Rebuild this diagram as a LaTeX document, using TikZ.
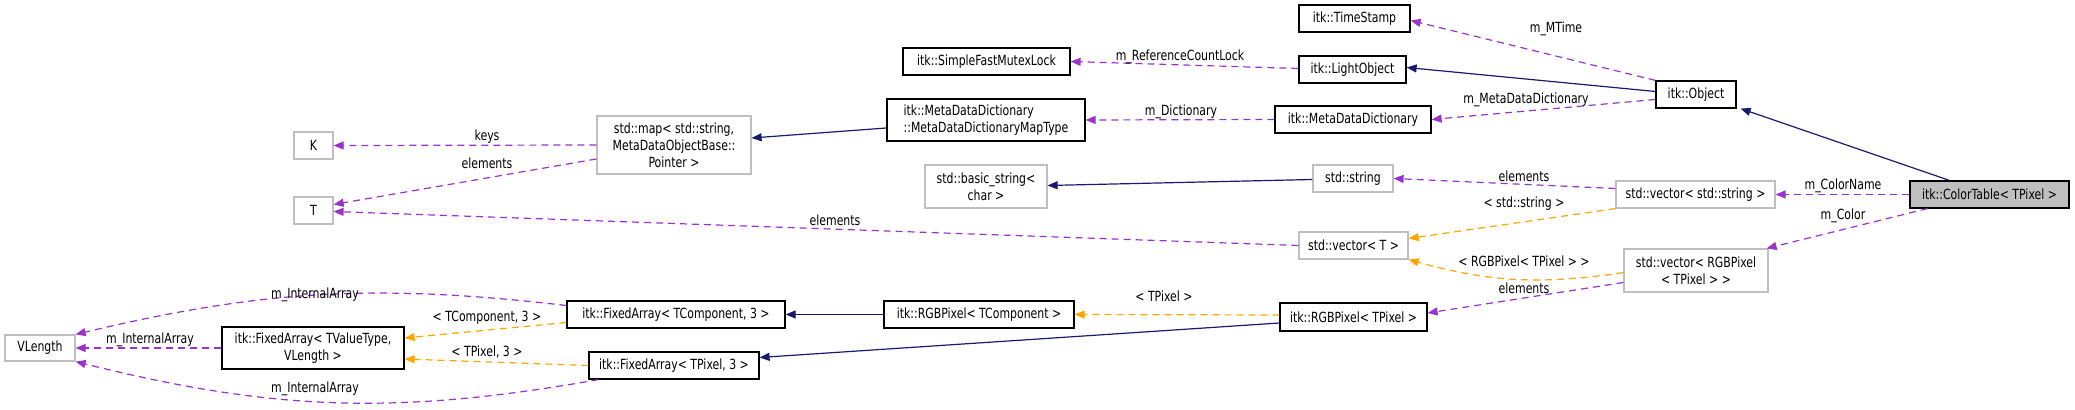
\documentclass[tikz,border=0pt]{standalone}
\usepackage{fontspec}
\setmainfont[FakeStretch=0.78]{DejaVu Sans}
\usetikzlibrary{arrows.meta,calc}
\definecolor{navy}{HTML}{191970}
\definecolor{purp}{HTML}{9A32CD}
\definecolor{orng}{HTML}{FFA500}
\definecolor{gbord}{HTML}{BFBFBF}
\begin{document}
\begin{tikzpicture}[x=0.5pt,y=-0.5pt,
  bx/.style={draw=black,line width=0.6pt,fill=white,inner sep=1pt,align=center,font=\fontsize{7}{8.6}\selectfont},
  gx/.style={bx,draw=gbord},
  sol/.style={draw=navy,line width=0.6pt,-{Triangle[length=5pt,width=4pt]}},
  pe/.style={draw=purp,line width=0.6pt,dash pattern=on 3.5pt off 2.5pt,-{Triangle[length=5pt,width=4pt,fill=purp]}},
  oe/.style={draw=orng,line width=0.6pt,dash pattern=on 3.5pt off 2.5pt,-{Triangle[length=5pt,width=4pt,fill=orng]}},
  lbl/.style={font=\fontsize{7}{8.6}\selectfont,inner sep=0pt}]
\useasboundingbox (0,0) rectangle (2075,410);
\node[bx,minimum width=55.5pt,minimum height=13.5pt] (TS) at (1354.5,18.5) {itk::TimeStamp};
\node[bx,minimum width=53.5pt,minimum height=13.5pt] (LO) at (1352.5,69.5) {itk::LightObject};
\node[bx,minimum width=40pt,minimum height=13.5pt] (OBJ) at (1696,94.5) {itk::Object};
\node[bx,minimum width=78pt,minimum height=13.5pt] (MDD) at (1353,119.5) {itk::MetaDataDictionary};
\node[bx,minimum width=83.5pt,minimum height=13.5pt] (SFML) at (986.5,61.5) {itk::SimpleFastMutexLock};
\node[bx,minimum width=99pt,minimum height=21pt,align=left] (MAPT) at (986,120) {itk::MetaDataDictionary\\::MetaDataDictionaryMapType};
\node[gx,minimum width=77pt,minimum height=29pt] (MAP) at (674,145) {std::map\textless{} std::string,\\MetaDataObjectBase::\\Pointer \textgreater{}};
\node[gx,minimum width=19.5pt,minimum height=13.5pt] (K) at (313.5,145.5) {K};
\node[gx,minimum width=19.5pt,minimum height=13.5pt] (T) at (313.5,210.5) {T};
\node[gx,minimum width=61pt,minimum height=21.5pt] (BS) at (986,186.5) {std::basic\_string\textless\\char \textgreater};
\node[gx,minimum width=40pt,minimum height=13.5pt] (STR) at (1353,178.5) {std::string};
\node[gx,minimum width=79.5pt,minimum height=13.5pt] (VS) at (1695.5,194.5) {std::vector\textless{} std::string \textgreater};
\node[bx,fill=gbord,minimum width=79.5pt,minimum height=13.5pt] (CT) at (1989.5,194.5) {itk::ColorTable\textless{} TPixel \textgreater};
\node[gx,minimum width=54.5pt,minimum height=13.5pt] (VT) at (1353.5,245.5) {std::vector\textless{} T \textgreater};
\node[gx,minimum width=72pt,minimum height=21.5pt] (VRGB) at (1696,270.5) {std::vector\textless{} RGBPixel\\\textless{} TPixel \textgreater{} \textgreater};
\node[bx,minimum width=73.5pt,minimum height=14pt] (RGBT) at (1353.5,317) {itk::RGBPixel\textless{} TPixel \textgreater};
\node[bx,minimum width=95pt,minimum height=13.5pt] (RGBC) at (979,314.5) {itk::RGBPixel\textless{} TComponent \textgreater};
\node[bx,minimum width=109pt,minimum height=13.5pt] (FAC) at (676,314.5) {itk::FixedArray\textless{} TComponent, 3 \textgreater};
\node[bx,minimum width=85pt,minimum height=13.5pt] (FAP) at (674,365.5) {itk::FixedArray\textless{} TPixel, 3 \textgreater};
\node[bx,minimum width=91pt,minimum height=21pt] (FAV) at (313,348) {itk::FixedArray\textless{} TValueType,\\VLength \textgreater};
\node[gx,minimum width=35pt,minimum height=13pt] (VL) at (40,348) {VLength};
% solid
\draw[sol] ($(CT.north west)+(40,0)$) -- ($(OBJ.south east)+(4,0)$);
\draw[sol] ($(OBJ.west)+(0,-3)$) -- ($(LO.east)+(0,-2)$);
\draw[sol] ($(MAPT.west)+(0,8)$) -- ($(MAP.east)+(0,-7)$);
\draw[sol] ($(STR.west)+(0,1)$) -- ($(BS.east)+(0,-1)$);
\draw[sol] (RGBC.west) -- (FAC.east);
\draw[sol] ($(RGBT.west)+(0,6)$) -- ($(FAP.east)+(0,-8)$);
% purple
\draw[pe] (OBJ.north west) -- ($(TS.east)+(0,2)$);
\node[lbl] (l1) at (1556,29) {m\_MTime};
\draw[pe] ($(LO.west)+(0,-1)$) -- (SFML.east);
\node[lbl] (l2) at (1180,57) {m\_ReferenceCountLock};
\draw[pe] ($(OBJ.west)+(0,5)$) -- (MDD.east);
\node[lbl] (l3) at (1526,100) {m\_MetaDataDictionary};
\draw[pe] (MDD.west) -- (MAPT.east);
\node[lbl] (l4) at (1181,112) {m\_Dictionary};
\draw[pe] (MAP.west) -- (K.east);
\node[lbl] (l5) at (487,137) {keys};
\draw[pe] ($(MAP.west)+(0,14)$) -- ($(T.east)+(0,-6)$);
\node[lbl] (l6) at (487,163) {elements};
\draw[pe] (VT.west) -- ($(T.east)+(0,1)$);
\node[lbl] (l7) at (835,220) {elements};
\draw[pe] ($(VS.west)+(0,-6)$) -- (STR.east);
\node[lbl] (l8) at (1524,176) {elements};
\draw[pe] (CT.west) -- (VS.east);
\node[lbl] (l9) at (1843,186) {m\_ColorName};
\draw[pe] ($(CT.south west)+(18,0)$) -- ($(VRGB.north east)+(-2,0)$);
\node[lbl] (l10) at (1843,216) {m\_Color};
\draw[pe] ($(VRGB.west)+(0,12)$) -- ($(RGBT.east)+(0,-4)$);
\node[lbl] (l11) at (1524,288) {elements};
\draw[pe] ($(FAC.west)+(0,-9)$) to[bend right=10] (VL.north east);
\node[lbl] (l12) at (315,295) {m\_InternalArray};
\draw[pe] (FAV.west) -- (VL.east);
\node[lbl] (l13) at (150,340) {m\_InternalArray};
\draw[pe] ($(FAP.south west)+(10,0)$) to[bend left=12] (VL.south east);
\node[lbl] (l14) at (315,389) {m\_InternalArray};
% orange
\draw[oe] (VS.south west) -- ($(VT.east)+(0,-7)$);
\node[lbl] (l15) at (1524,204) {\textless{} std::string \textgreater};
\draw[oe] ($(VRGB.west)+(0,2)$) to[bend left=12] (VT.south east);
\node[lbl] (l16) at (1524,261) {\textless{} RGBPixel\textless{} TPixel \textgreater{} \textgreater};
\draw[oe] ($(RGBT.west)+(0,-2)$) -- (RGBC.east);
\node[lbl] (l17) at (1164,296) {\textless{} TPixel \textgreater};
\draw[oe] ($(FAC.west)+(0,8)$) -- ($(FAV.east)+(0,-10)$);
\node[lbl] (l18) at (487,318) {\textless{} TComponent, 3 \textgreater};
\draw[oe] (FAP.west) -- ($(FAV.east)+(0,11)$);
\node[lbl] (l19) at (487,352) {\textless{} TPixel, 3 \textgreater};
\end{tikzpicture}
\end{document}
